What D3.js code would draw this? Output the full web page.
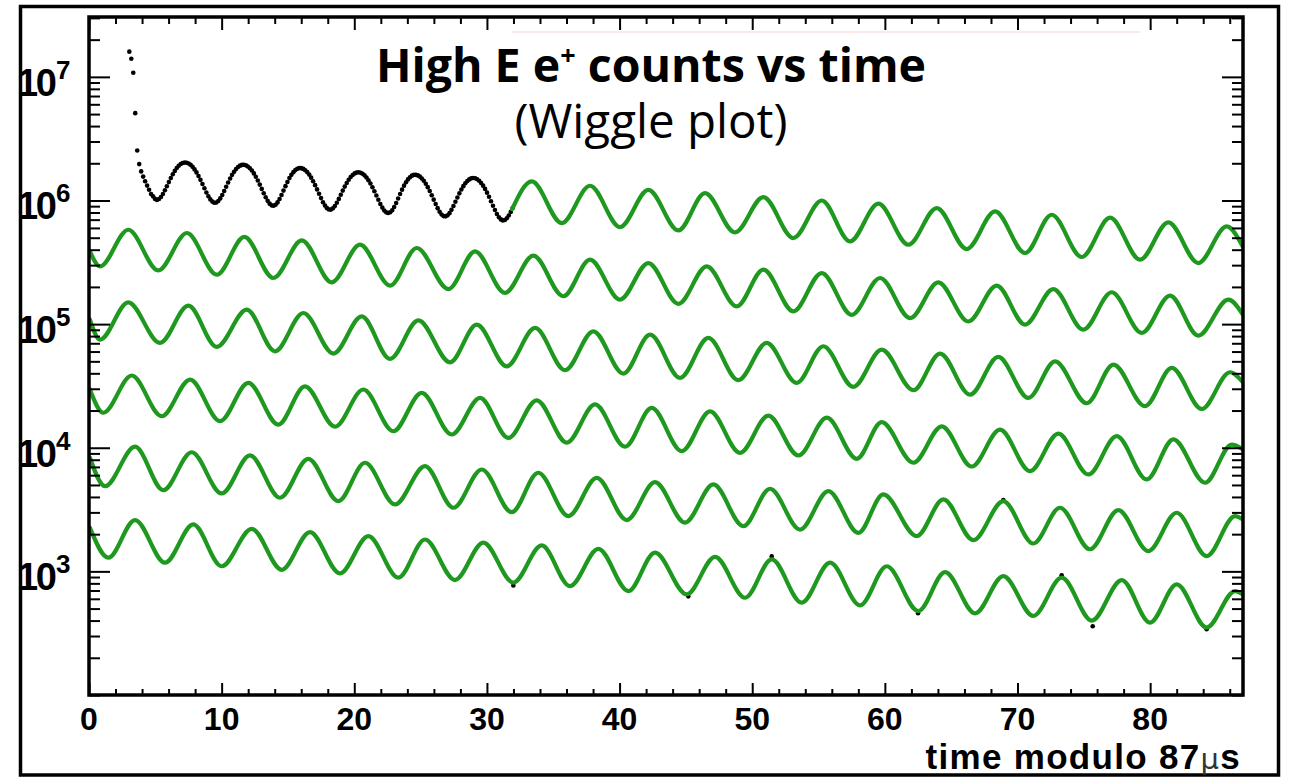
<!DOCTYPE html>
<html>
<head>
<meta charset="utf-8">
<script src="https://cdn.jsdelivr.net/npm/d3@7"></script>
<style>
  html, body { margin: 0; padding: 0; background: #fff; }
  svg { display: block; }
</style>
</head>
<body>
<svg id="chart" width="1289" height="777"></svg>
<script>
// ---- Data -------------------------------------------------------------
// Early histogram bins (row 1, before the fit starts): bin start / width in µs
const binStart = 3.04;
const binWidth = 0.149;
// counts per bin, in thousands
const earlyCountsK = [
  16000, 14000, 10800, 5090, 2540, 1970, 1720, 1560, 1430, 1320,
  1220, 1130, 1080, 1030, 1010, 1027, 1066, 1128, 1209, 1303,
  1409, 1519, 1630, 1736, 1830, 1911, 1973, 2013, 2030, 2022,
  1993, 1942, 1872, 1785, 1687, 1580, 1469, 1360, 1256, 1162,
  1083, 1021, 980, 960, 964, 991, 1040, 1109, 1195, 1292,
  1398, 1506, 1612, 1709, 1795, 1864, 1913, 1940, 1944, 1925,
  1885, 1825, 1748, 1657, 1557, 1451, 1345, 1241, 1146, 1062,
  993, 943, 914, 907, 924, 965, 1027, 1108, 1202, 1306,
  1412, 1517, 1613, 1696, 1762, 1807, 1828, 1826, 1802, 1759,
  1697, 1620, 1531, 1433, 1331, 1230, 1133, 1046, 969, 909,
  867, 845, 844, 864, 902, 959, 1030, 1112, 1202, 1295,
  1387, 1473, 1549, 1610, 1656, 1682, 1690, 1677, 1646, 1597,
  1534, 1457, 1372, 1281, 1187, 1097, 1013, 938, 876, 830,
  802, 792, 803, 835, 887, 955, 1038, 1129, 1224, 1318,
  1405, 1482, 1544, 1589, 1612, 1613, 1596, 1560, 1508, 1444,
  1367, 1282, 1193, 1103, 1016, 936, 867, 811, 771, 748,
  744, 758, 790, 840, 902, 976, 1058, 1142, 1226, 1306,
  1377, 1437, 1482, 1510, 1520, 1512, 1486, 1444, 1387, 1318,
  1241, 1157, 1071, 987, 907, 837, 778, 732, 703, 690,
  696, 718, 756, 809, 874
];

// A few late data points that sit off the fit line: [time mod 87 µs, counts]
const lateOffFitPoints = [
  [31.99, 770], [45.18, 628], [51.47, 1322], [62.50, 458],
  [68.93, 3770], [73.33, 929], [75.67, 360], [84.26, 340]
];

// Fit curves, one per 87 µs turn: [time mod 87 µs, counts] at the wiggle extrema
const fitRow1 = [
  [31.9, 850e3], [33.38, 1426e3], [35.64, 657e3], [37.77, 1316e3], [40.03, 610e3],
  [42.17, 1220e3], [44.43, 573e3], [46.44, 1148e3], [48.70, 552e3], [50.84, 1066e3],
  [53.10, 497e3], [55.24, 1000e3], [57.37, 467e3], [59.51, 942e3], [61.77, 439e3],
  [63.91, 869e3], [66.17, 405e3], [68.31, 816e3], [70.57, 376e3], [72.58, 767e3],
  [74.84, 349e3], [76.98, 726e3], [79.24, 332e3], [81.37, 665e3], [83.63, 312e3],
  [85.77, 617e3], [87, 420e3]
];
const fitRow2 = [
  [0.07, 387e3], [0.83, 293e3], [2.96, 580e3], [5.22, 272e3], [7.38, 546e3],
  [9.63, 251e3], [11.71, 507e3], [13.90, 236e3], [16.04, 475e3], [18.30, 218e3],
  [20.43, 439e3], [22.70, 205e3], [24.71, 413e3], [27.09, 192e3], [29.10, 387e3],
  [31.36, 179e3], [33.50, 358e3], [35.76, 168e3], [37.77, 332e3], [40.03, 158e3],
  [42.17, 312e3], [44.43, 146e3], [46.57, 293e3], [48.83, 139e3], [50.84, 276e3],
  [53.10, 127e3], [55.24, 259e3], [57.50, 119e3], [59.64, 236e3], [61.90, 112e3],
  [64.03, 218e3], [66.29, 105e3], [68.43, 205e3], [70.57, 99.1e3], [72.70, 192e3],
  [74.96, 90.3e3], [77.10, 181e3], [79.37, 84.9e3], [81.50, 170e3], [83.63, 80.7e3],
  [85.89, 158e3], [87, 119e3]
];
const fitRow3 = [
  [0.07, 108.7e3], [0.83, 75.0e3], [2.96, 150e3], [5.35, 70.5e3], [7.49, 141e3],
  [9.63, 65.5e3], [11.89, 131e3], [14.02, 60.3e3], [16.16, 123e3], [18.42, 57.8e3],
  [20.56, 115.6e3], [22.69, 52.4e3], [24.83, 107.4e3], [27.22, 49.1e3], [29.23, 99.1e3],
  [31.49, 45.6e3], [33.63, 93.2e3], [35.89, 42.4e3], [38.02, 87.5e3], [40.28, 39.8e3],
  [42.30, 82.2e3], [44.56, 36.7e3], [46.69, 77.3e3], [48.95, 35.2e3], [51.09, 70.5e3],
  [53.35, 33.5e3], [55.36, 66.2e3], [57.62, 31.1e3], [59.76, 62.2e3], [62.15, 29.2e3],
  [64.16, 57.8e3], [66.42, 26.9e3], [68.55, 54.3e3], [70.82, 25.3e3], [72.83, 50.0e3],
  [75.22, 22.9e3], [77.23, 47.1e3], [79.61, 21.7e3], [81.63, 44.3e3], [83.89, 20.6e3],
  [86.02, 40.8e3], [87, 33.7e3]
];
const fitRow4 = [
  [0.07, 29.6e3], [1.08, 19.2e3], [3.22, 38.4e3], [5.48, 18.0e3], [7.62, 35.6e3],
  [9.88, 16.4e3], [12.01, 33.5e3], [14.27, 15.4e3], [16.28, 31.4e3], [18.55, 14.8e3],
  [20.68, 29.6e3], [22.94, 13.6e3], [25.08, 27.8e3], [27.34, 12.8e3], [29.48, 25.3e3],
  [31.61, 12.0e3], [33.75, 24.2e3], [36.02, 11.0e3], [38.15, 22.4e3], [40.41, 10.2e3],
  [42.42, 21.0e3], [44.69, 9.38e3], [46.82, 19.7e3], [49.08, 9.10e3], [51.21, 18.2e3],
  [53.48, 8.66e3], [55.62, 17.5e3], [57.88, 8.14e3], [59.76, 16.1e3], [62.15, 7.56e3],
  [64.29, 14.9e3], [66.55, 7.05e3], [68.68, 14.0e3], [70.94, 6.47e3], [73.08, 13.0e3],
  [75.34, 6.08e3], [77.48, 12.4e3], [79.74, 5.54e3], [81.75, 11.7e3], [84.14, 5.21e3],
  [86.15, 10.6e3], [87, 9.7e3]
];
const fitRow5 = [
  [0.07, 8.29e3], [1.21, 4.89e3], [3.47, 10.2e3], [5.60, 4.54e3], [7.74, 9.20e3],
  [10.00, 4.27e3], [12.14, 8.66e3], [14.40, 3.94e3], [16.53, 8.14e3], [18.80, 3.70e3],
  [20.81, 7.56e3], [23.07, 3.48e3], [25.33, 7.10e3], [27.47, 3.27e3], [29.61, 6.67e3],
  [31.87, 3.01e3], [33.87, 6.28e3], [36.14, 2.80e3], [38.28, 5.71e3], [40.54, 2.60e3],
  [42.67, 5.27e3], [44.93, 2.48e3], [47.07, 5.05e3], [49.33, 2.32e3], [51.34, 4.66e3],
  [53.60, 2.18e3], [55.74, 4.46e3], [58.00, 2.05e3], [59.88, 4.19e3], [62.40, 1.93e3],
  [64.41, 3.82e3], [66.67, 1.79e3], [68.93, 3.70e3], [71.19, 1.68e3], [73.20, 3.27e3],
  [75.46, 1.51e3], [77.60, 3.13e3], [79.86, 1.46e3], [82.00, 2.98e3], [84.26, 1.33e3],
  [86.40, 2.80e3], [87, 2.63e3]
];
const fitRow6 = [
  [0.07, 2250], [1.46, 1290], [3.47, 2600], [5.73, 1175], [7.86, 2400],
  [10.00, 1100], [12.27, 2210], [14.53, 1030], [16.66, 2080], [18.92, 963],
  [21.06, 1930], [23.32, 889], [25.33, 1810], [27.59, 851], [29.73, 1710],
  [31.99, 811], [34.13, 1620], [36.26, 760], [38.40, 1520], [40.66, 693],
  [42.67, 1420], [45.06, 652], [47.20, 1310], [49.46, 612], [51.47, 1250],
  [53.73, 558], [55.87, 1175], [58.13, 531], [60.14, 1100], [62.52, 478],
  [64.54, 987], [66.80, 458], [68.93, 916], [71.19, 436], [73.33, 889],
  [75.60, 400], [77.86, 851], [79.99, 385], [82.00, 785], [84.26, 351],
  [86.40, 693], [87, 652]
];
const fitRows = [fitRow1, fitRow2, fitRow3, fitRow4, fitRow5, fitRow6];

// Axis ticks and labels
const xMajorTicks = [0, 10, 20, 30, 40, 50, 60, 70, 80];
const xTickLabels = ["0", "10", "20", "30", "40", "50", "60", "70", "80"];
const yDecades = [1e3, 1e4, 1e5, 1e6, 1e7];
const yExponents = ["3", "4", "5", "6", "7"];

// ---- Layout -----------------------------------------------------------
const svg = d3.select("#chart");
const plot = { left: 89, right: 1243, top: 17, bottom: 695 };

const x = d3.scaleLinear().domain([0, 87]).range([plot.left, plot.right]);
const y = d3.scaleLog().domain([100, 3.05e7]).range([plot.bottom, plot.top]);

svg.append("rect").attr("width", 1289).attr("height", 777).attr("fill", "#fff");

// faint pink rule under the title
svg.append("line")
  .attr("x1", 512).attr("x2", 1140).attr("y1", 32).attr("y2", 32)
  .attr("stroke", "#f5d3da").attr("stroke-width", 1);

svg.append("clipPath").attr("id", "plotClip")
  .append("rect")
  .attr("x", plot.left).attr("y", plot.top)
  .attr("width", plot.right - plot.left).attr("height", plot.bottom - plot.top);

const body = svg.append("g").attr("clip-path", "url(#plotClip)");

// Data points (black markers)
const earlyPoints = earlyCountsK.map((c, i) => [binStart + i * binWidth, c * 1000]);
body.append("g").selectAll("circle")
  .data(earlyPoints.concat(lateOffFitPoints))
  .join("circle")
  .attr("cx", d => x(d[0]))
  .attr("cy", d => y(d[1]))
  .attr("r", 2.3)
  .attr("fill", "#000");

// Fit curves (green)
const fitLine = d3.line()
  .x(d => x(d[0]))
  .y(d => y(d[1]))
  .curve(d3.curveMonotoneX);

body.append("g").selectAll("path")
  .data(fitRows)
  .join("path")
  .attr("d", fitLine)
  .attr("fill", "none")
  .attr("stroke", "#1f981f")
  .attr("stroke-width", 4.2)
  .attr("stroke-linejoin", "round")
  .attr("stroke-linecap", "round");

// ---- Axes (ticks drawn inward, ROOT style) -----------------------------
const xMinorTicks = d3.range(0, 87, 2).filter(v => v % 10 !== 0);
const yAll = y.ticks();
const yMinorTicks = yAll.filter(v => !yDecades.includes(v));

function styleTicks(g, w) {
  g.select(".domain").remove();
  g.selectAll(".tick line").attr("stroke", "#000").attr("stroke-width", w);
  g.selectAll(".tick text").remove();
}

// bottom
svg.append("g").attr("transform", `translate(0,${plot.bottom})`)
  .call(d3.axisBottom(x).tickValues(xMajorTicks).tickSize(-12).tickFormat(""))
  .call(g => styleTicks(g, 2));
svg.append("g").attr("transform", `translate(0,${plot.bottom})`)
  .call(d3.axisBottom(x).tickValues(xMinorTicks).tickSize(-6).tickFormat(""))
  .call(g => styleTicks(g, 2));
// top
svg.append("g").attr("transform", `translate(0,${plot.top})`)
  .call(d3.axisTop(x).tickValues(xMajorTicks).tickSize(-13).tickFormat(""))
  .call(g => styleTicks(g, 2));
svg.append("g").attr("transform", `translate(0,${plot.top})`)
  .call(d3.axisTop(x).tickValues(xMinorTicks).tickSize(-7).tickFormat(""))
  .call(g => styleTicks(g, 2));
// left
svg.append("g").attr("transform", `translate(${plot.left},0)`)
  .call(d3.axisLeft(y).tickValues(yDecades).tickSize(-21).tickFormat(""))
  .call(g => styleTicks(g, 2));
svg.append("g").attr("transform", `translate(${plot.left},0)`)
  .call(d3.axisLeft(y).tickValues(yMinorTicks).tickSize(-11).tickFormat(""))
  .call(g => styleTicks(g, 2));
// right
svg.append("g").attr("transform", `translate(${plot.right},0)`)
  .call(d3.axisRight(y).tickValues(yDecades).tickSize(-21).tickFormat(""))
  .call(g => styleTicks(g, 2));
svg.append("g").attr("transform", `translate(${plot.right},0)`)
  .call(d3.axisRight(y).tickValues(yMinorTicks).tickSize(-11).tickFormat(""))
  .call(g => styleTicks(g, 2));

// plot frame
svg.append("rect")
  .attr("x", plot.left).attr("y", plot.top)
  .attr("width", plot.right - plot.left).attr("height", plot.bottom - plot.top)
  .attr("fill", "none").attr("stroke", "#000").attr("stroke-width", 3.5);

// outer canvas frame
svg.append("rect")
  .attr("x", 20.5).attr("y", 6.5).attr("width", 1258).attr("height", 768.5)
  .attr("fill", "none").attr("stroke", "#000").attr("stroke-width", 3.5);

// ---- Labels -----------------------------------------------------------
const axisFont = "'Liberation Sans', Arial, Helvetica, sans-serif";

svg.append("g").selectAll("text")
  .data(xMajorTicks)
  .join("text")
  .attr("x", d => x(d))
  .attr("y", 730)
  .attr("text-anchor", "middle")
  .attr("font-family", axisFont)
  .attr("font-weight", "bold")
  .attr("font-size", 32)
  .attr("fill", "#000")
  .text((d, i) => xTickLabels[i]);

const yLab = svg.append("g").selectAll("g")
  .data(yDecades)
  .join("g")
  .attr("transform", d => `translate(0,${y(d)})`);
yLab.append("text")
  .attr("x", 17).attr("y", 19)
  .attr("font-family", axisFont)
  .attr("font-weight", "bold")
  .attr("font-size", 38)
  .attr("letter-spacing", -2.5)
  .attr("fill", "#000")
  .text("10");
yLab.append("text")
  .attr("x", 56).attr("y", 2)
  .attr("font-family", axisFont)
  .attr("font-weight", "bold")
  .attr("font-size", 26)
  .attr("fill", "#000")
  .text((d, i) => yExponents[i]);

// x-axis title
const xt = svg.append("text")
  .attr("x", 1241).attr("y", 769)
  .attr("text-anchor", "end")
  .attr("font-family", axisFont)
  .attr("font-weight", "bold")
  .attr("font-size", 35)
  .attr("letter-spacing", 1.3)
  .attr("fill", "#000");
xt.append("tspan").text("time modulo 87");
xt.append("tspan").attr("font-weight", "normal").attr("font-family", "'DejaVu Sans', sans-serif")
  .attr("font-size", 29).attr("fill", "#333").text("μ");
xt.append("tspan").text("s");

// chart title
const titleFont = "'Open Sans', 'Noto Sans', sans-serif";
const t1 = svg.append("text")
  .attr("x", 651).attr("y", 82)
  .attr("text-anchor", "middle")
  .attr("font-family", titleFont)
  .attr("font-weight", 700)
  .attr("font-size", 46.5)
  .attr("fill", "#000");
t1.append("tspan").text("High E e");
t1.append("tspan").attr("font-size", 27).attr("dy", -17).text("+");
t1.append("tspan").attr("dy", 17).text(" counts vs time");

svg.append("text")
  .attr("x", 651).attr("y", 138)
  .attr("text-anchor", "middle")
  .attr("font-family", titleFont)
  .attr("font-weight", 400)
  .attr("font-size", 47.5)
  .attr("fill", "#000")
  .text("(Wiggle plot)");
</script>
</body>
</html>
